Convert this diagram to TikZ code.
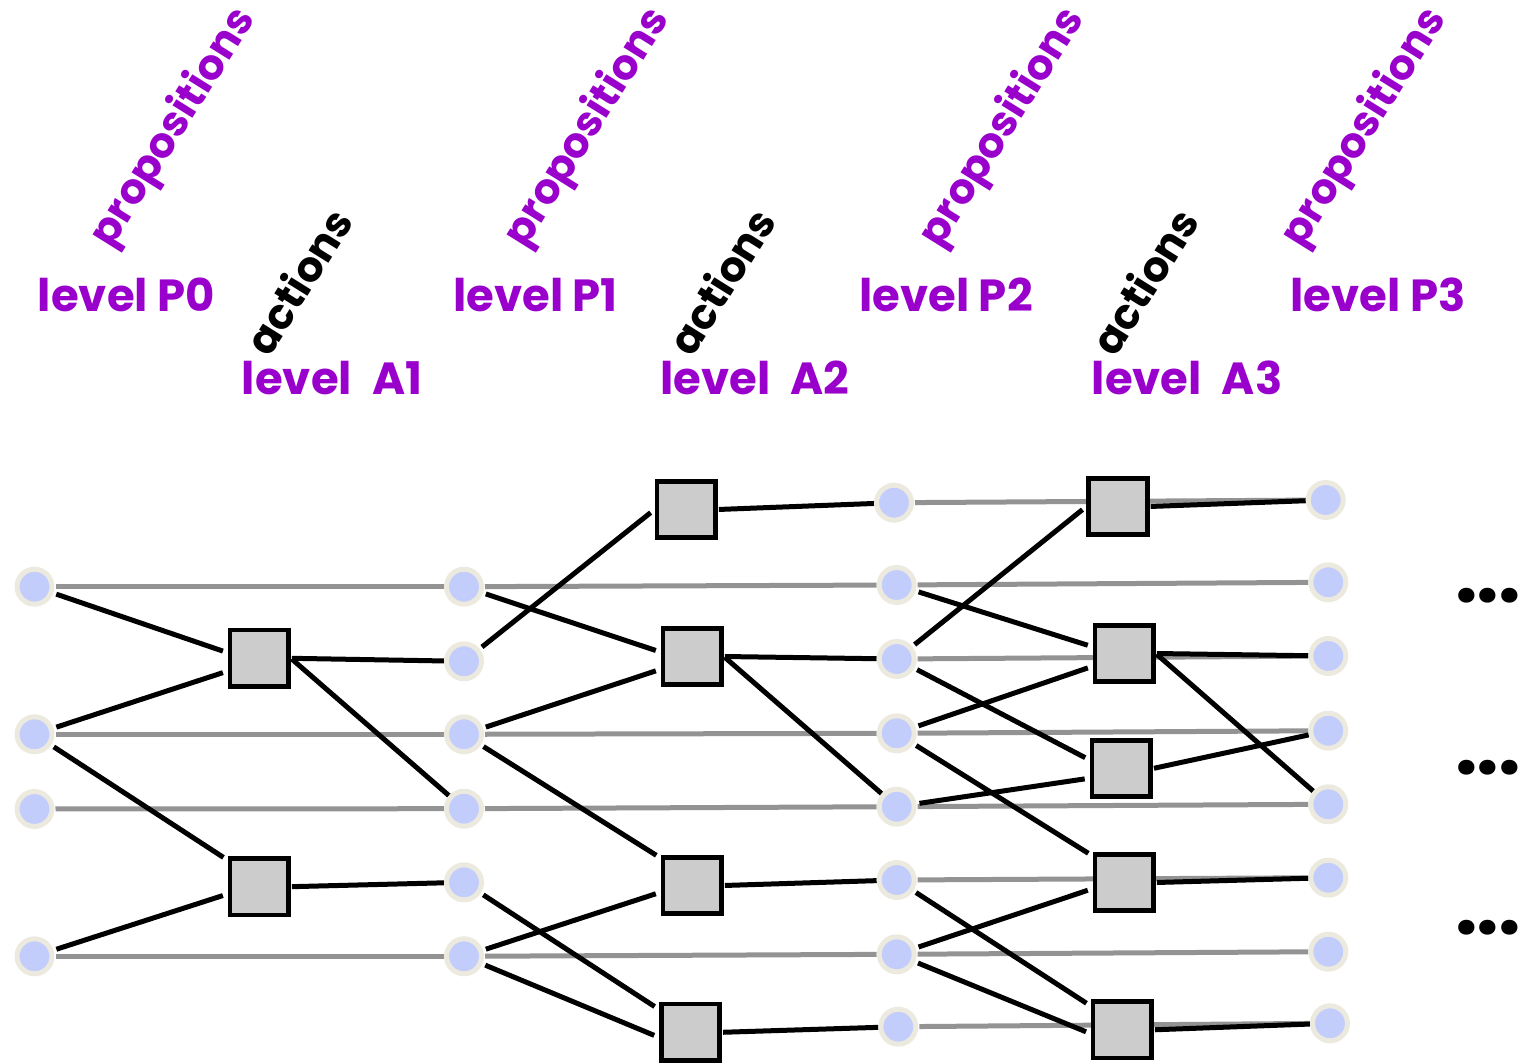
\documentclass[tikz,border=0pt]{standalone}
\usepackage{fontspec}
\newfontfamily\labelfont{Poppins}
\definecolor{propcol}{HTML}{9900CC}
\definecolor{ringcol}{HTML}{ECEADF}
\definecolor{factcol}{HTML}{C3CDFB}
\definecolor{boxfill}{HTML}{CCCCCC}
\definecolor{persist}{HTML}{939393}
\pgfdeclarelayer{wires}
\pgfsetlayers{wires,main}
\tikzset{
  fact/.style={circle, draw=ringcol, line width=5pt, fill=factcol,
    minimum size=35pt, inner sep=0pt},
  act/.style={rectangle, draw=black, line width=4.8pt, fill=boxfill,
    minimum width=58.5pt, minimum height=56.5pt, inner sep=0pt},
  noop/.style={draw=persist, line width=5pt, shorten <=1pt},
  pre/.style={draw=black, line width=5pt, shorten <=3pt, shorten >=5pt},
  eff/.style={draw=black, line width=5pt, shorten <=1pt},
  txt/.style={font=\labelfont\bfseries\fontsize{45}{45}\selectfont, inner sep=0pt},
  lvl/.style={txt, text=propcol, anchor=base},
  tagtxt/.style={font=\labelfont\bfseries\fontsize{42}{42}\selectfont,
    inner sep=0pt, rotate=58},
  proptag/.style={tagtxt, text=propcol},
  acttag/.style={tagtxt, text=black},
  more/.style={font=\labelfont\bfseries\fontsize{80}{80}\selectfont, inner sep=0pt}
}
\begin{document}
\begin{tikzpicture}[x=1pt,y=-1pt]
\useasboundingbox (0,0) rectangle (1521,1064);

% level headings
\node[proptag] (t0) at (174,128) {propositions};
\node[proptag] (t1) at (588,128) {propositions};
\node[proptag] (t2) at (1003,128) {propositions};
\node[proptag] (t3) at (1365,128) {propositions};
\node[acttag] (u1) at (298,281) {actions};
\node[acttag] (u2) at (721,281) {actions};
\node[acttag] (u3) at (1144,281) {actions};
\node[lvl] (l0) at (126.5,312) {level P0};
\node[lvl] (l1) at (535.5,312) {level P1};
\node[lvl] (l2) at (946,312) {level P2};
\node[lvl] (l3) at (1378,312) {level P3};
\node[lvl] (m1) at (332,395) {level\hspace{20pt}A1};
\node[lvl] (m2) at (755,395) {level\hspace{20pt}A2};
\node[lvl] (m3) at (1187,395) {level\hspace{20pt}A3};

% proposition level P0
\node[fact] (p0a) at (34.5,586.7) {};
\node[fact] (p0b) at (34.5,734.3) {};
\node[fact] (p0c) at (34.5,809) {};
\node[fact] (p0d) at (34.5,956.3) {};
% action level A1
\node[act] (a1a) at (259.3,658.3) {};
\node[act] (a1b) at (259.3,886.7) {};
% proposition level P1
\node[fact] (p1a) at (464,586.7) {};
\node[fact] (p1b) at (464,661.3) {};
\node[fact] (p1c) at (464,734.3) {};
\node[fact] (p1d) at (464,808.7) {};
\node[fact] (p1e) at (464,882.3) {};
\node[fact] (p1f) at (464,956.3) {};
% action level A2
\node[act] (a2a) at (686.2,509.5) {};
\node[act] (a2b) at (692.2,656.5) {};
\node[act] (a2c) at (692.2,885.5) {};
\node[act] (a2d) at (690.5,1032.3) {};
% proposition level P2
\node[fact] (p2a) at (894,502.7) {};
\node[fact] (p2b) at (896.7,585) {};
\node[fact] (p2c) at (896.7,659) {};
\node[fact] (p2d) at (896.7,733.3) {};
\node[fact] (p2e) at (896.7,806.7) {};
\node[fact] (p2f) at (896.7,880) {};
\node[fact] (p2g) at (896.7,954.3) {};
\node[fact] (p2h) at (898.3,1026.7) {};
% action level A3
\node[act] (a3a) at (1118,506.5) {};
\node[act] (a3b) at (1124.2,653.5) {};
\node[act] (a3c) at (1121.3,768.5) {};
\node[act] (a3d) at (1124.2,882.5) {};
\node[act] (a3e) at (1122.3,1029.8) {};
% proposition level P3
\node[fact] (p3a) at (1325.7,500) {};
\node[fact] (p3b) at (1328.3,582.3) {};
\node[fact] (p3c) at (1328.3,656) {};
\node[fact] (p3d) at (1328.3,730.7) {};
\node[fact] (p3e) at (1328.3,804.3) {};
\node[fact] (p3f) at (1328.3,877.7) {};
\node[fact] (p3g) at (1328.3,951.7) {};
\node[fact] (p3h) at (1330,1023.3) {};

% continuation marks
\node[more] (d1) at (1488,596) {.\kern-1pt.\kern-1pt.};
\node[more] (d2) at (1488,768) {.\kern-1pt.\kern-1pt.};
\node[more] (d3) at (1488,928) {.\kern-1pt.\kern-1pt.};

\begin{pgfonlayer}{wires}
  % persistence (no-op) links
  \foreach \a/\b in {p0a/p1a, p0b/p1c, p0c/p1d, p0d/p1f,
                     p1a/p2b, p1c/p2d, p1d/p2e, p1f/p2g,
                     p2a/p3a, p2b/p3b, p2c/p3c, p2d/p3d,
                     p2e/p3e, p2f/p3f, p2g/p3g, p2h/p3h}
    \draw[noop] (\a) -- (\b);
  % preconditions
  \foreach \a/\b in {p0a/a1a.170, p0b/a1a.202, p0b/a1b.140, p0d/a1b.193,
                     p1a/a2b.172, p1b/a2a.180, p1c/a2b.202, p1c/a2c.139,
                     p1e/a2d.144, p1f/a2c.192, p1f/a2d.189,
                     p2b/a3b.168, p2c/a3a.180, p2c/a3c.165, p2d/a3b.202,
                     p2d/a3d.140, p2e/a3c.197, p2f/a3e.143, p2g/a3d.191,
                     p2g/a3e.187}
    \draw[pre] (\a) -- (\b);
  % effects
  \foreach \a/\b in {a1a/p1b, a1a/p1d, a1b/p1e,
                     a2a/p2a, a2b/p2c, a2b/p2e, a2c/p2f, a2d/p2h,
                     a3a/p3a, a3b/p3c, a3b/p3e, a3c/p3d, a3d/p3f, a3e/p3h}
    \draw[eff] (\a.east) -- (\b);
\end{pgfonlayer}
\end{tikzpicture}
\end{document}
